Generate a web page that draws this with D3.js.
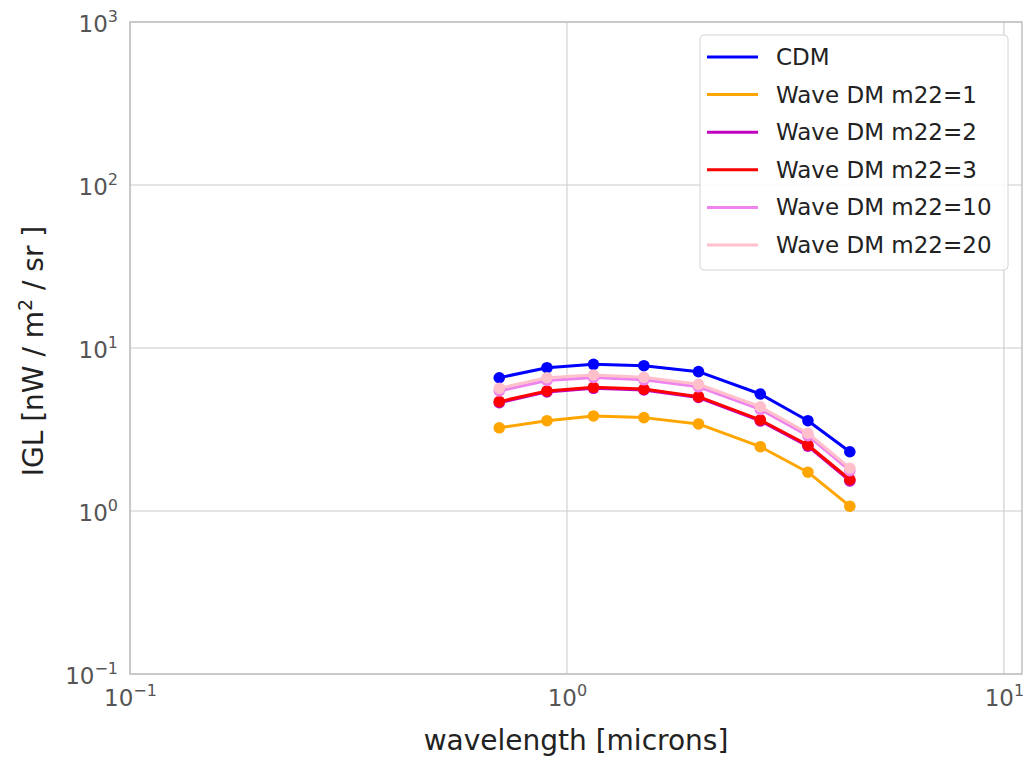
<!DOCTYPE html>
<html>
<head>
<meta charset="utf-8">
<script src="https://cdn.jsdelivr.net/npm/d3@7"></script>
<style>
  html, body { margin: 0; padding: 0; background: #fff; }
  svg { display: block; font-family: "DejaVu Sans", sans-serif; }
</style>
</head>
<body>
<svg id="chart" width="1027" height="760"></svg>
<script>
// Wavelengths of the NIRCam wide filters [microns]
const wavelengths = [0.70, 0.90, 1.15, 1.50, 2.00, 2.77, 3.56, 4.44];

// Integrated galaxy light per model [nW / m^2 / sr]
const cdm    = [6.57, 7.57, 7.94, 7.79, 7.16, 5.22, 3.58, 2.31];
const wave1  = [3.24, 3.58, 3.83, 3.74, 3.42, 2.48, 1.73, 1.07];
const wave2  = [4.62, 5.38, 5.66, 5.53, 4.97, 3.57, 2.50, 1.53];
const wave3  = [4.69, 5.45, 5.74, 5.60, 5.03, 3.62, 2.54, 1.56];
const wave10 = [5.45, 6.32, 6.60, 6.38, 5.78, 4.20, 2.90, 1.77];
const wave20 = [5.66, 6.57, 6.83, 6.61, 5.99, 4.36, 3.00, 1.83];

const seriesNames  = ["CDM", "Wave DM m22=1", "Wave DM m22=2", "Wave DM m22=3", "Wave DM m22=10", "Wave DM m22=20"];
const seriesValues = [cdm, wave1, wave2, wave3, wave10, wave20];
const seriesColors = ["#0000ff", "#ffa500", "#bf00bf", "#ff0000", "#ee82ee", "#ffc0cb"];

const xTicks = [0.1, 1, 10];
const xTickExp = ["−1", "0", "1"];
const yTicks = [0.1, 1, 10, 100, 1000];
const yTickExp = ["−1", "0", "1", "2", "3"];

const svg = d3.select("#chart");
const plot = { left: 130, right: 1022, top: 22, bottom: 674 };

const x = d3.scaleLog().domain([0.1, 11]).range([plot.left, plot.right]);
const y = d3.scaleLog().domain([0.1, 1000]).range([plot.bottom, plot.top]);

// grid lines
const grid = svg.append("g").attr("stroke", "#cccccc").attr("stroke-width", 1.1);
grid.selectAll("line.gx").data(xTicks).join("line")
  .attr("x1", d => x(d)).attr("x2", d => x(d))
  .attr("y1", plot.top).attr("y2", plot.bottom);
grid.selectAll("line.gy").data(yTicks).join("line")
  .attr("x1", plot.left).attr("x2", plot.right)
  .attr("y1", d => y(d)).attr("y2", d => y(d));

// frame
svg.append("rect")
  .attr("x", plot.left).attr("y", plot.top)
  .attr("width", plot.right - plot.left).attr("height", plot.bottom - plot.top)
  .attr("fill", "none").attr("stroke", "#bdbdbd").attr("stroke-width", 1.4);

// axes (tick labels only, no tick marks)
const xAxis = d3.axisBottom(x).tickValues(xTicks).tickSize(0).tickFormat(() => "");
const yAxis = d3.axisLeft(y).tickValues(yTicks).tickSize(0).tickFormat(() => "");
const gx = svg.append("g").attr("transform", `translate(0,${plot.bottom})`).call(xAxis);
const gy = svg.append("g").attr("transform", `translate(${plot.left},0)`).call(yAxis);
gx.select(".domain").remove();
gy.select(".domain").remove();

function powerLabel(sel, exps) {
  sel.each(function(d, i) {
    const t = d3.select(this);
    t.text(null);
    t.append("tspan").text("10");
    t.append("tspan").attr("dy", -10).attr("font-size", 16).text(exps[i]);
  });
}

gx.selectAll(".tick text")
  .attr("fill", "#555").attr("font-size", 23)
  .attr("font-family", "DejaVu Sans, sans-serif")
  .attr("dy", 0).attr("y", 32)
  .attr("text-anchor", "middle")
  .call(powerLabel, xTickExp);

gy.selectAll(".tick text")
  .attr("fill", "#555").attr("font-size", 23)
  .attr("font-family", "DejaVu Sans, sans-serif")
  .attr("dy", 0).attr("x", -12).attr("y", 9)
  .attr("text-anchor", "end")
  .call(powerLabel, yTickExp);

// axis titles
svg.append("text")
  .attr("x", 576).attr("y", 750)
  .attr("text-anchor", "middle").attr("font-size", 28).attr("fill", "#222")
  .text("wavelength [microns]");

const yl = svg.append("text")
  .attr("transform", `translate(43,351) rotate(-90)`)
  .attr("text-anchor", "middle").attr("font-size", 28).attr("fill", "#222");
yl.append("tspan").text("IGL [nW / m");
yl.append("tspan").attr("dy", -11).attr("font-size", 19).text("2");
yl.append("tspan").attr("dy", 11).text(" / sr ]");

// data series
const line = d3.line().x(d => x(d[0])).y(d => y(d[1]));
const series = svg.append("g");
seriesValues.forEach((vals, i) => {
  const pts = wavelengths.map((w, j) => [w, vals[j]]);
  const g = series.append("g");
  g.append("path").datum(pts)
    .attr("d", line).attr("fill", "none")
    .attr("stroke", seriesColors[i]).attr("stroke-width", 3)
    .attr("stroke-linejoin", "round");
  g.selectAll("circle").data(pts).join("circle")
    .attr("cx", d => x(d[0])).attr("cy", d => y(d[1]))
    .attr("r", 5.8).attr("fill", seriesColors[i]);
});

// legend
const lg = svg.append("g").attr("transform", "translate(700,35)");
lg.append("rect")
  .attr("width", 308).attr("height", 235).attr("rx", 4)
  .attr("fill", "#fff").attr("fill-opacity", 0.85)
  .attr("stroke", "#d4d4d4").attr("stroke-width", 1);
seriesNames.forEach((name, i) => {
  const yy = 22 + i * 37.6;
  lg.append("line")
    .attr("x1", 7).attr("x2", 58).attr("y1", yy).attr("y2", yy)
    .attr("stroke", seriesColors[i]).attr("stroke-width", 3);
  lg.append("text")
    .attr("x", 76).attr("y", yy + 8)
    .attr("font-size", 23).attr("fill", "#222")
    .text(name);
});
</script>
</body>
</html>
